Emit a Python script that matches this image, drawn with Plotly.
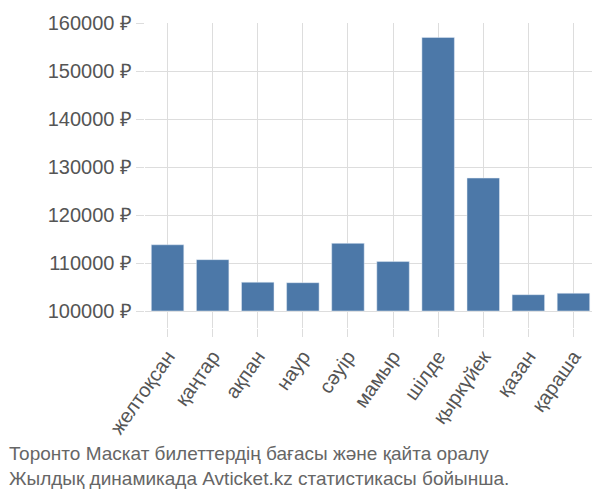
import plotly.graph_objects as go

months = ["желтоқсан", "қаңтар", "ақпан", "наур", "сәуір", "мамыр",
          "шілде", "қыркүйек", "қазан", "қараша"]
prices = [113800, 110700, 106000, 105900, 114100, 110300,
          157000, 127700, 103400, 103700]
ticks = [100000, 110000, 120000, 130000, 140000, 150000, 160000]

fig = go.Figure(go.Bar(
    x=months, y=[p - 100000 for p in prices], base=100000,
    marker_color="#4c78a8", width=0.72,
))
fig.update_layout(
    width=600, height=500, plot_bgcolor="white", paper_bgcolor="white",
    margin=dict(l=137, r=12, t=15, b=180, autoexpand=False),
    font=dict(family="Liberation Sans, Arial", size=20, color="#555"),
    showlegend=False, bargap=0.28,
)
fig.update_yaxes(range=[96460, 160000], tickvals=ticks,
                 ticktext=[f"{t} ₽" for t in ticks],
                 showgrid=True, gridcolor="#ddd", ticks="outside",
                 tickcolor="#ddd", ticklen=8, zeroline=False)
fig.update_xaxes(tickangle=-55, showgrid=True, gridcolor="#ddd",
                 ticks="outside", tickcolor="#ddd", ticklen=8)
fig.add_annotation(text="Торонто Маскат билеттердің бағасы және қайта оралу<br>Жылдық динамикада Avticket.kz статистикасы бойынша.",
                   xref="paper", yref="paper", x=-0.305, y=-0.37, xanchor="left",
                   yanchor="top", showarrow=False, align="left",
                   font=dict(size=19, color="#666"))
fig.write_html("out.html")
